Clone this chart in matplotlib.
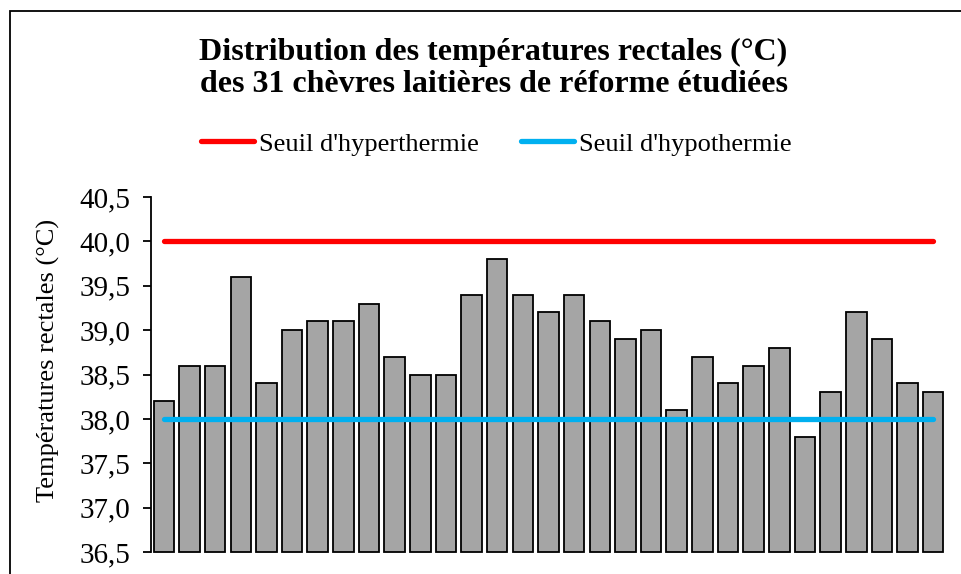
import matplotlib.pyplot as plt
from matplotlib.patches import Rectangle
from matplotlib.ticker import FuncFormatter
import numpy as np

# rectal temperature of each goat (°C)
temperatures = [38.2, 38.6, 38.6, 39.6, 38.4, 39.0, 39.1, 39.1, 39.3, 38.7,
                38.5, 38.5, 39.4, 39.8, 39.4, 39.2, 39.4, 39.1, 38.9, 39.0,
                38.1, 38.7, 38.4, 38.6, 38.8, 37.8, 38.3, 39.2, 38.9, 38.4,
                38.3]
seuil_hyper = 40.0
seuil_hypo = 38.0
y_ticks = [36.5, 37.0, 37.5, 38.0, 38.5, 39.0, 39.5, 40.0, 40.5]

plt.rcParams['font.family'] = ['Liberation Serif', 'DejaVu Serif']

fig = plt.figure(figsize=(9.62, 5.74), dpi=100)

# chart area border (Excel style, cropped on right/bottom)
fig.patches.append(Rectangle((10 / 962, -0.1), 1.2, 1 - 11 / 574 + 0.1,
                             transform=fig.transFigure, fill=False,
                             edgecolor='black', linewidth=1.3))

ax = fig.add_axes([151 / 962, 1 - 552 / 574, 795 / 962, (552 - 197) / 574])

x = np.arange(len(temperatures))
base = y_ticks[0]
ax.bar(x, np.array(temperatures) - base, bottom=base, width=0.8,
       color='#A5A5A5', edgecolor='black', linewidth=1.3, clip_on=False)

ax.plot([x[0], x[-1]], [seuil_hyper, seuil_hyper], color='#FF0000', lw=3.8,
        solid_capstyle='round', label="Seuil d'hyperthermie")
ax.plot([x[0], x[-1]], [seuil_hypo, seuil_hypo], color='#00B0F0', lw=3.8,
        solid_capstyle='round', label="Seuil d'hypothermie")

ax.set_xlim(-0.5, len(temperatures) - 0.5)
ax.set_ylim(36.5, 40.5)
ax.set_yticks(y_ticks)
ax.yaxis.set_major_formatter(FuncFormatter(lambda v, p: f"{v:.1f}".replace('.', ',')))
ax.tick_params(axis='y', labelsize=21, length=6, width=1.3, pad=9)
ax.set_xticks([])
for s in ['top', 'right', 'bottom']:
    ax.spines[s].set_visible(False)
ax.spines['left'].set_linewidth(1.3)

ax.set_ylabel('Températures rectales (°C)', fontsize=19)
ax.yaxis.set_label_coords(-0.1145, 0.54)

fig.text(0.513, 1 - 68.5 / 574,
         "Distribution des températures rectales (°C)\ndes 31 chèvres laitières de réforme étudiées",
         ha='center', va='center', fontsize=23, fontweight='bold', linespacing=1.16)

ax.legend(loc='center', bbox_to_anchor=(0.516, 1 - 144 / 574), bbox_transform=fig.transFigure,
          ncol=2, frameon=False, fontsize=19, handlelength=2.0, handletextpad=0.2,
          columnspacing=1.6)

fig.savefig('out.png', dpi=100)
